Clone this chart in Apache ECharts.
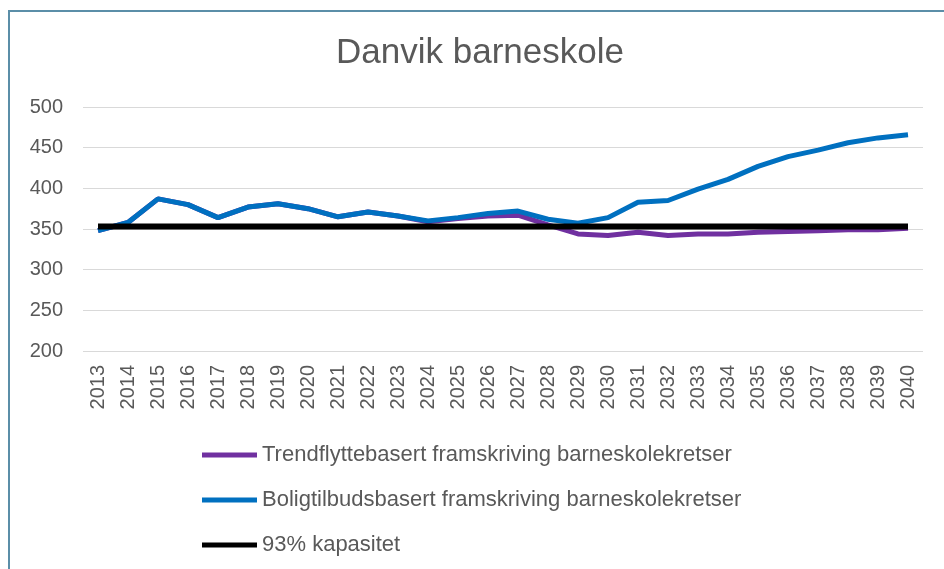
<!DOCTYPE html>
<html>
<head>
<meta charset="utf-8">
<script src="https://cdn.jsdelivr.net/npm/echarts@6/dist/echarts.min.js"></script>
<style>
  html, body { margin: 0; padding: 0; width: 944px; height: 569px; overflow: hidden; background: #fff; }
  .frame { position: absolute; left: 8px; top: 10px; width: 2000px; height: 2000px; border: 2px solid #5b8ea8; box-sizing: border-box; }
  #chart { position: absolute; left: 0; top: 0; width: 944px; height: 569px; }
</style>
</head>
<body>
<div class="frame"></div>
<div id="chart"></div>
<script>
// år (kategorier)
const years = ["2013","2014","2015","2016","2017","2018","2019","2020","2021","2022","2023","2024","2025","2026","2027","2028","2029","2030","2031","2032","2033","2034","2035","2036","2037","2038","2039","2040"]
// trendflyttebasert framskriving
const trend = [348, 358, 387, 380, 364, 377, 381, 375, 365, 371, 366, 359, 363, 366, 367, 355, 344, 342, 346, 342, 344, 344, 346, 347, 348, 349, 349, 351]
// boligtilbudsbasert framskriving
const bolig = [348, 358, 387, 380, 364, 377, 381, 375, 365, 371, 366, 360, 364, 369, 372, 362, 357, 364, 383, 385, 399, 411, 427, 439, 447, 456, 462, 466]
// 93% kapasitet
const kapasitet = years.map(() => 353)
// y-akse
const yMin = 200, yMax = 500, yStep = 50

const names = [
  "Trendflyttebasert framskriving barneskolekretser",
  "Boligtilbudsbasert framskriving barneskolekretser",
  "93% kapasitet",
]

const myChart = echarts.init(document.getElementById("chart"))
const font = "'Liberation Sans', Arial, sans-serif"

const option = {
  animation: false,
  title: {
    text: "Danvik barneskole",
    left: 336,
    top: 36,
    padding: 0,
    textStyle: { color: "#595959", fontSize: 35, fontWeight: "normal", fontFamily: font },
  },
  grid: { left: 83, right: 21, top: 107, bottom: 218, containLabel: false },
  legend: {
    orient: "vertical",
    left: 202,
    top: 444,
    padding: 0,
    itemWidth: 55,
    itemHeight: 5,
    itemGap: 23,
    icon: "rect",
    textStyle: { color: "#595959", fontSize: 22, fontFamily: font, lineHeight: 22 },
    data: names,
  },
  xAxis: {
    type: "category",
    data: years,
    boundaryGap: true,
    axisLine: { show: false },
    axisTick: { show: false },
    axisLabel: { rotate: 90, margin: 14, color: "#595959", fontSize: 20, fontFamily: font },
  },
  yAxis: {
    type: "value",
    min: yMin,
    max: yMax,
    interval: yStep,
    axisLine: { show: false },
    axisTick: { show: false },
    axisLabel: { margin: 20, color: "#595959", fontSize: 20, fontFamily: font },
    splitLine: { lineStyle: { color: "#d9d9d9", width: 1 } },
  },
  series: [
    {
      name: names[0],
      type: "line",
      data: trend,
      showSymbol: false,
      color: "#7030a0",
      lineStyle: { width: 5, color: "#7030a0" },
    },
    {
      name: names[1],
      type: "line",
      data: bolig,
      showSymbol: false,
      color: "#0070c0",
      lineStyle: { width: 5, color: "#0070c0" },
    },
    {
      name: names[2],
      type: "line",
      data: kapasitet,
      showSymbol: false,
      color: "#000000",
      lineStyle: { width: 6, color: "#000000" },
    },
  ],
}
myChart.setOption(option)
</script>
</body>
</html>
